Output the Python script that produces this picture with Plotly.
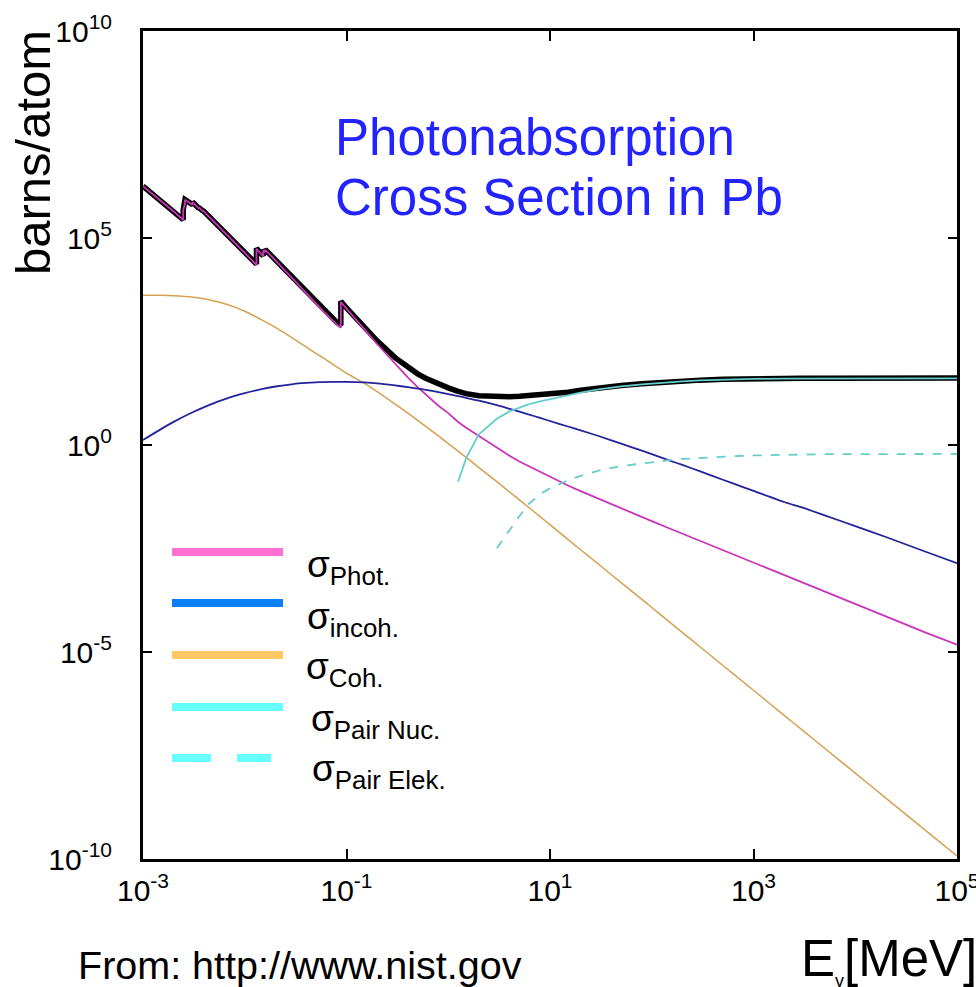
import plotly.graph_objects as go

# ---------------- data (barns/atom vs photon energy in MeV) ----------------
energy_edges = [1e-3, 1.5e-3, 2e-3, 2.484e-3, 2.484e-3, 2.586e-3, 2.586e-3, 3.066e-3, 3.066e-3,
                3.554e-3, 3.554e-3, 3.851e-3, 3.851e-3, 4e-3, 5e-3, 6e-3, 8e-3, 1e-2,
                1.3035e-2, 1.3035e-2, 1.52e-2, 1.52e-2, 1.586e-2, 1.586e-2, 2e-2, 3e-2, 4e-2,
                5e-2, 6e-2, 8e-2, 8.8e-2, 8.8e-2, 0.1, 0.15, 0.2, 0.3, 0.4, 0.5, 0.6, 0.8,
                1, 1.25, 1.5, 2, 3, 4, 5, 6, 8, 10, 15, 20, 30, 50, 80, 100, 150, 200, 300,
                500, 800, 1000, 2000, 3000, 5000, 1e4, 2e4, 5e4, 1e5]

sigma_photo = [1.79e6, 8.06e5, 4.38e5, 2.72e5, 4.77e5, 6.65e5, 8.42e5, 6.36e5, 7.36e5,
               5.12e5, 5.43e5, 4.48e5, 4.68e5, 4.28e5, 2.49e5, 1.59e5, 7.7e4, 4.4e4,
               2.2e4, 5.5e4, 3.6e4, 5.0e4, 4.5e4, 5.2e4, 2.9e4, 1.0e4, 4.7e3,
               2.6e3, 1.65e3, 8.2e2, 6.8e2, 2.85e3, 1.95e3, 6.2e2, 2.75e2, 91, 43, 25, 16.5, 8.9,
               5.9, 3.6, 2.6, 1.65, 0.85, 0.55, 0.40, 0.32, 0.225, 0.165, 0.105, 0.077, 0.050,
               0.029, 0.018, 0.0145, 0.0096, 0.0072, 0.0048, 0.0029, 0.0018, 0.00145, 7.2e-4,
               4.8e-4, 2.9e-4, 1.45e-4, 7.3e-5, 2.9e-5, 1.5e-5]

sigma_total = [1.794e6, 8.10e5, 4.42e5, 2.76e5, 4.81e5, 6.69e5, 8.46e5, 6.40e5, 7.40e5,
               5.16e5, 5.47e5, 4.52e5, 4.72e5, 4.31e5, 2.52e5, 1.62e5, 7.91e4, 4.58e4,
               2.34e4, 5.64e4, 3.71e4, 5.11e4, 4.61e4, 5.31e4, 2.97e4, 1.04e4, 4.97e3,
               2.79e3, 1.80e3, 926, 776, 2.95e3, 2.04e3, 688, 328, 129, 74.5, 52.3, 41, 29.7,
               24.0, 19.7, 17.4, 15.5, 14.5, 14.6, 15.0, 15.4, 16.1, 16.9, 18.85, 21.0, 23.9,
               27.4, 30.1, 31.5, 33.9, 35.3, 36.9, 38.7, 39.8, 40.2, 40.8,
               41.0, 41.1, 41.2, 41.3, 41.4, 41.4]

energy_smooth = [1e-3, 1.5e-3, 2e-3, 3e-3, 4e-3, 5e-3, 6e-3, 8e-3, 1e-2, 1.5e-2, 2e-2, 3e-2,
                 4e-2, 5e-2, 6e-2, 8e-2, 0.1, 0.15, 0.2, 0.3, 0.4, 0.5, 0.6, 0.8, 1, 1.25, 1.5,
                 2, 3, 4, 5, 6, 8, 10, 15, 20, 30, 50, 80, 100, 150, 200, 300, 500, 800, 1000,
                 2000, 3000, 5000, 1e4, 2e4, 5e4, 1e5]

sigma_incoh = [1.32, 2.42, 3.62, 6.01, 8.24, 10.3, 12.1, 15.3, 17.9, 22.6, 25.9, 29.6,
               31.5, 32.6, 33.1, 33.5, 33.5, 32.4, 30.9, 27.5, 25, 23, 21.5, 19, 17, 15.2, 13.8,
               11.8, 9.2, 7.5, 6.4, 5.6, 4.5, 3.8, 2.8, 2.25, 1.65, 1.08, 0.73, 0.6, 0.42,
               0.33, 0.23, 0.145, 0.095, 0.078, 0.042, 0.031, 0.02, 0.011, 0.006, 0.0026, 0.0014]

sigma_coh = [4170, 4120, 4030, 3760, 3390, 3020, 2690, 2140, 1700, 1020, 690, 372,
             234, 164, 123, 77.6, 54.3, 30.9, 19.5, 9.77, 5.89, 3.94, 2.82, 1.66, 1.08, 0.71, 0.50,
             0.285, 0.130, 0.0733, 0.0473, 0.0331, 0.0186, 0.0119, 0.00525, 0.00295, 0.00132,
             4.73e-4, 1.86e-4, 1.19e-4, 5.25e-5, 2.95e-5, 1.32e-5, 4.73e-6, 1.86e-6, 1.19e-6,
             2.95e-7, 1.32e-7, 4.73e-8, 1.19e-8, 2.95e-9, 4.73e-10, 1.19e-10]

energy_pair_nuc = [1.25, 1.5, 2, 3, 4, 5, 6, 8, 10, 15, 20, 30, 50, 80, 100, 150, 200, 300,
                   500, 800, 1000, 2000, 3000, 5000, 1e4, 2e4, 5e4, 1e5]
sigma_pair_nuc = [0.13, 0.48, 1.8, 4.3, 6.5, 8.1, 9.4, 11.3, 12.8, 15.8, 18.5, 22, 26, 29,
                  30.5, 33, 34.5, 36.2, 38, 39.2, 39.6, 40.2, 40.4, 40.5, 40.6, 40.7, 40.75, 40.8]

energy_pair_el = [3, 4, 5, 6, 8, 10, 15, 20, 30, 50, 80, 100, 150, 200, 300, 500, 800, 1000,
                  2000, 3000, 5000, 1e4, 2e4, 5e4, 1e5]
sigma_pair_el = [0.0032, 0.009, 0.019, 0.035, 0.065, 0.09, 0.14, 0.18, 0.24, 0.31, 0.36, 0.39,
                 0.43, 0.46, 0.49, 0.52, 0.55, 0.56, 0.58, 0.59, 0.60, 0.60, 0.61, 0.61, 0.61]

x_tick_vals = [1e-3, 1e-1, 1e1, 1e3, 1e5]
x_tick_text = ["10<sup>-3</sup>", "10<sup>-1</sup>", "10<sup>1</sup>", "10<sup>3</sup>", "10<sup>5</sup>"]
y_tick_vals = [1e-10, 1e-5, 1e0, 1e5, 1e10]
y_tick_text = ["10<sup>-10</sup>", "10<sup>-5</sup>", "10<sup>0</sup>", "10<sup>5</sup>", "10<sup>10</sup>"]

legend_labels = ["σ<sub>Phot.</sub>", "σ<sub>incoh.</sub>", "σ<sub>Coh.</sub>",
                 "σ<sub>Pair Nuc.</sub>", "σ<sub>Pair Elek.</sub>"]
legend_colors = ["#ff70d0", "#0a80f8", "#ffc864", "#66ffff", "#66ffff"]

# ---------------- figure ----------------
W, H = 976, 987
L, R, T, B = 143, 957, 31, 859
PW, PH = R - L, B - T


def px(x):
    return (x - L) / PW


def py(y):
    return (B - y) / PH


FONT = "Liberation Sans, Arial, Helvetica, sans-serif"

fig = go.Figure()
fig.add_trace(go.Scatter(x=energy_edges, y=sigma_total, mode="lines",
                         line=dict(color="black", width=5.5), name="total"))
fig.add_trace(go.Scatter(x=energy_edges, y=sigma_photo, mode="lines",
                         line=dict(color="#cc33bb", width=1.8), name="photo"))
fig.add_trace(go.Scatter(x=energy_smooth, y=sigma_coh, mode="lines",
                         line=dict(color="#d6a050", width=1.5, shape="spline", smoothing=0.6),
                         name="coh"))
fig.add_trace(go.Scatter(x=energy_smooth, y=sigma_incoh, mode="lines",
                         line=dict(color="#23239a", width=1.8, shape="spline", smoothing=0.6),
                         name="incoh"))
fig.add_trace(go.Scatter(x=energy_pair_nuc, y=sigma_pair_nuc, mode="lines",
                         line=dict(color="#66cccc", width=1.8), name="pair nuc"))
fig.add_trace(go.Scatter(x=energy_pair_el, y=sigma_pair_el, mode="lines",
                         line=dict(color="#66cccc", width=1.8, dash="dash"), name="pair el"))

axis_common = dict(type="log", showgrid=False, zeroline=False, showline=True, linecolor="black",
                   linewidth=3, mirror="ticks", ticks="inside", tickcolor="black", tickwidth=2,
                   ticklabeloverflow="allow", automargin=False,
                   tickfont=dict(family=FONT, size=30, color="black"))
fig.update_xaxes(range=[-3, 5], tickvals=x_tick_vals, ticktext=x_tick_text, ticklen=10,
                 ticklabelstandoff=3, **axis_common)
fig.update_yaxes(range=[-10, 10], tickvals=y_tick_vals, ticktext=y_tick_text, ticklen=9,
                 ticklabelstandoff=22, **axis_common)

shapes = []
legend_y = [552, 603, 655, 707, 758]
for i, (yy, col) in enumerate(zip(legend_y, legend_colors)):
    if i < 4:
        segs = [(172, 283)]
    else:
        segs = [(172, 211), (237, 271)]
    for a, b in segs:
        shapes.append(dict(type="line", xref="paper", yref="paper", x0=px(a), x1=px(b),
                           y0=py(yy), y1=py(yy), line=dict(color=col, width=8)))

annotations = []
legend_text_x = [305, 305, 304, 309, 310]
legend_text_y = [567, 619, 669, 721, 771]
for lab, tx, ty in zip(legend_labels, legend_text_x, legend_text_y):
    annotations.append(dict(text=lab, xref="paper", yref="paper", x=px(tx), y=py(ty),
                            xanchor="left", yanchor="middle", showarrow=False,
                            font=dict(family=FONT, size=37, color="black")))

title_lines = ["Photonabsorption", "Cross Section in Pb"]
for line_text, top in zip(title_lines, [107, 167]):
    annotations.append(dict(text=line_text, xref="paper", yref="paper",
                            x=px(333), y=py(top), xanchor="left", yanchor="top", align="left",
                            showarrow=False, font=dict(family=FONT, size=51, color="#2323ff")))
annotations.append(dict(text="barns/atom", xref="paper", yref="paper", x=px(33), y=py(153),
                        xanchor="center", yanchor="middle", textangle=-90, showarrow=False,
                        font=dict(family=FONT, size=49, color="black")))
annotations.append(dict(text="From: http://www.nist.gov", xref="paper", yref="paper",
                        x=px(76), y=py(965), xanchor="left", yanchor="middle", showarrow=False,
                        font=dict(family=FONT, size=39.5, color="black")))
annotations.append(dict(text="E<sub><span style='font-size:18px'>γ</span></sub>[MeV]",
                        xref="paper", yref="paper", x=px(979), y=py(960), xanchor="right",
                        yanchor="middle", showarrow=False,
                        font=dict(family=FONT, size=51, color="black")))

fig.update_layout(width=W, height=H, margin=dict(l=L, r=W - R, t=T, b=H - B),
                  paper_bgcolor="white", plot_bgcolor="white", showlegend=False,
                  shapes=shapes, annotations=annotations)

fig.write_html("out.html")
